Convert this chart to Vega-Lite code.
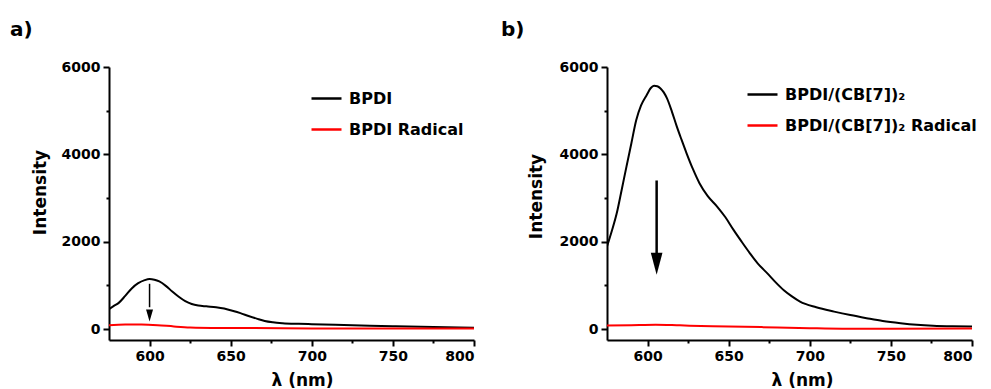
{
  "$schema": "https://vega.github.io/schema/vega-lite/v6.json",
  "background": "white",
  "padding": {"left": 10, "top": 20, "right": 5, "bottom": 0},
  "config": {
    "font": "DejaVu Sans",
    "view": {"stroke": null},
    "axis": {
      "labelFont": "DejaVu Sans", "labelFontWeight": "bold", "labelFontSize": 14, "labelColor": "black",
      "titleFont": "DejaVu Sans", "titleFontWeight": "bold", "titleFontSize": 17, "titleColor": "black",
      "domainColor": "black", "domainWidth": 2, "tickColor": "black", "tickWidth": 2, "grid": false
    },
    "legend": {
      "labelFont": "DejaVu Sans", "labelFontWeight": "bold", "labelFontSize": 16, "labelColor": "black",
      "symbolType": "stroke", "symbolSize": 900, "symbolStrokeWidth": 2.5, "padding": 0, "rowPadding": 6,
      "labelOffset": 6, "labelLimit": 400
    },
    "title": {"font": "DejaVu Sans", "fontWeight": "bold", "fontSize": 20, "color": "black", "anchor": "start", "frame": "bounds"}
  },
  "datasets": {
    "spectra": [
      {"panel": "a", "series": "BPDI", "wl": 575, "intensity": 458},
      {"panel": "a", "series": "BPDI", "wl": 578, "intensity": 530},
      {"panel": "a", "series": "BPDI", "wl": 581, "intensity": 600},
      {"panel": "a", "series": "BPDI", "wl": 585, "intensity": 760},
      {"panel": "a", "series": "BPDI", "wl": 589, "intensity": 930},
      {"panel": "a", "series": "BPDI", "wl": 593, "intensity": 1050},
      {"panel": "a", "series": "BPDI", "wl": 597, "intensity": 1120},
      {"panel": "a", "series": "BPDI", "wl": 600, "intensity": 1145},
      {"panel": "a", "series": "BPDI", "wl": 603, "intensity": 1130},
      {"panel": "a", "series": "BPDI", "wl": 606, "intensity": 1090},
      {"panel": "a", "series": "BPDI", "wl": 610, "intensity": 990},
      {"panel": "a", "series": "BPDI", "wl": 614, "intensity": 860},
      {"panel": "a", "series": "BPDI", "wl": 618, "intensity": 740},
      {"panel": "a", "series": "BPDI", "wl": 622, "intensity": 640},
      {"panel": "a", "series": "BPDI", "wl": 626, "intensity": 575},
      {"panel": "a", "series": "BPDI", "wl": 630, "intensity": 540},
      {"panel": "a", "series": "BPDI", "wl": 635, "intensity": 520},
      {"panel": "a", "series": "BPDI", "wl": 641, "intensity": 500},
      {"panel": "a", "series": "BPDI", "wl": 646, "intensity": 470},
      {"panel": "a", "series": "BPDI", "wl": 651, "intensity": 420},
      {"panel": "a", "series": "BPDI", "wl": 656, "intensity": 365},
      {"panel": "a", "series": "BPDI", "wl": 661, "intensity": 300},
      {"panel": "a", "series": "BPDI", "wl": 666, "intensity": 240},
      {"panel": "a", "series": "BPDI", "wl": 671, "intensity": 185},
      {"panel": "a", "series": "BPDI", "wl": 676, "intensity": 155},
      {"panel": "a", "series": "BPDI", "wl": 682, "intensity": 135},
      {"panel": "a", "series": "BPDI", "wl": 692, "intensity": 120},
      {"panel": "a", "series": "BPDI", "wl": 700, "intensity": 112},
      {"panel": "a", "series": "BPDI", "wl": 725, "intensity": 90},
      {"panel": "a", "series": "BPDI", "wl": 750, "intensity": 65},
      {"panel": "a", "series": "BPDI", "wl": 775, "intensity": 45},
      {"panel": "a", "series": "BPDI", "wl": 800, "intensity": 30},
      {"panel": "a", "series": "BPDI Radical", "wl": 575, "intensity": 90},
      {"panel": "a", "series": "BPDI Radical", "wl": 585, "intensity": 105},
      {"panel": "a", "series": "BPDI Radical", "wl": 595, "intensity": 105},
      {"panel": "a", "series": "BPDI Radical", "wl": 605, "intensity": 90},
      {"panel": "a", "series": "BPDI Radical", "wl": 615, "intensity": 60},
      {"panel": "a", "series": "BPDI Radical", "wl": 625, "intensity": 38},
      {"panel": "a", "series": "BPDI Radical", "wl": 650, "intensity": 25},
      {"panel": "a", "series": "BPDI Radical", "wl": 700, "intensity": 15},
      {"panel": "a", "series": "BPDI Radical", "wl": 750, "intensity": 15},
      {"panel": "a", "series": "BPDI Radical", "wl": 800, "intensity": 15},
      {"panel": "b", "series": "BPDI/(CB[7])₂", "wl": 575, "intensity": 1890},
      {"panel": "b", "series": "BPDI/(CB[7])₂", "wl": 578, "intensity": 2250},
      {"panel": "b", "series": "BPDI/(CB[7])₂", "wl": 581, "intensity": 2650},
      {"panel": "b", "series": "BPDI/(CB[7])₂", "wl": 584, "intensity": 3180},
      {"panel": "b", "series": "BPDI/(CB[7])₂", "wl": 587, "intensity": 3720},
      {"panel": "b", "series": "BPDI/(CB[7])₂", "wl": 590, "intensity": 4250},
      {"panel": "b", "series": "BPDI/(CB[7])₂", "wl": 593, "intensity": 4780},
      {"panel": "b", "series": "BPDI/(CB[7])₂", "wl": 596, "intensity": 5120},
      {"panel": "b", "series": "BPDI/(CB[7])₂", "wl": 599.5, "intensity": 5360},
      {"panel": "b", "series": "BPDI/(CB[7])₂", "wl": 602, "intensity": 5520},
      {"panel": "b", "series": "BPDI/(CB[7])₂", "wl": 604, "intensity": 5570},
      {"panel": "b", "series": "BPDI/(CB[7])₂", "wl": 606, "intensity": 5560},
      {"panel": "b", "series": "BPDI/(CB[7])₂", "wl": 608, "intensity": 5510},
      {"panel": "b", "series": "BPDI/(CB[7])₂", "wl": 610, "intensity": 5420},
      {"panel": "b", "series": "BPDI/(CB[7])₂", "wl": 612, "intensity": 5280},
      {"panel": "b", "series": "BPDI/(CB[7])₂", "wl": 615, "intensity": 4980},
      {"panel": "b", "series": "BPDI/(CB[7])₂", "wl": 618, "intensity": 4640},
      {"panel": "b", "series": "BPDI/(CB[7])₂", "wl": 621, "intensity": 4330},
      {"panel": "b", "series": "BPDI/(CB[7])₂", "wl": 624, "intensity": 4030},
      {"panel": "b", "series": "BPDI/(CB[7])₂", "wl": 628, "intensity": 3660},
      {"panel": "b", "series": "BPDI/(CB[7])₂", "wl": 632, "intensity": 3340},
      {"panel": "b", "series": "BPDI/(CB[7])₂", "wl": 637, "intensity": 3050},
      {"panel": "b", "series": "BPDI/(CB[7])₂", "wl": 643, "intensity": 2800},
      {"panel": "b", "series": "BPDI/(CB[7])₂", "wl": 648, "intensity": 2560},
      {"panel": "b", "series": "BPDI/(CB[7])₂", "wl": 653, "intensity": 2270},
      {"panel": "b", "series": "BPDI/(CB[7])₂", "wl": 658, "intensity": 2000},
      {"panel": "b", "series": "BPDI/(CB[7])₂", "wl": 663, "intensity": 1740},
      {"panel": "b", "series": "BPDI/(CB[7])₂", "wl": 668, "intensity": 1500},
      {"panel": "b", "series": "BPDI/(CB[7])₂", "wl": 674, "intensity": 1270},
      {"panel": "b", "series": "BPDI/(CB[7])₂", "wl": 679, "intensity": 1070},
      {"panel": "b", "series": "BPDI/(CB[7])₂", "wl": 684, "intensity": 890},
      {"panel": "b", "series": "BPDI/(CB[7])₂", "wl": 689, "intensity": 750},
      {"panel": "b", "series": "BPDI/(CB[7])₂", "wl": 694, "intensity": 630},
      {"panel": "b", "series": "BPDI/(CB[7])₂", "wl": 704, "intensity": 500},
      {"panel": "b", "series": "BPDI/(CB[7])₂", "wl": 715, "intensity": 400},
      {"panel": "b", "series": "BPDI/(CB[7])₂", "wl": 725, "intensity": 320},
      {"panel": "b", "series": "BPDI/(CB[7])₂", "wl": 735, "intensity": 250},
      {"panel": "b", "series": "BPDI/(CB[7])₂", "wl": 745, "intensity": 185},
      {"panel": "b", "series": "BPDI/(CB[7])₂", "wl": 756, "intensity": 135},
      {"panel": "b", "series": "BPDI/(CB[7])₂", "wl": 766, "intensity": 100},
      {"panel": "b", "series": "BPDI/(CB[7])₂", "wl": 776, "intensity": 78},
      {"panel": "b", "series": "BPDI/(CB[7])₂", "wl": 788, "intensity": 65},
      {"panel": "b", "series": "BPDI/(CB[7])₂", "wl": 800, "intensity": 60},
      {"panel": "b", "series": "BPDI/(CB[7])₂ Radical", "wl": 575, "intensity": 80},
      {"panel": "b", "series": "BPDI/(CB[7])₂ Radical", "wl": 590, "intensity": 90},
      {"panel": "b", "series": "BPDI/(CB[7])₂ Radical", "wl": 605, "intensity": 100},
      {"panel": "b", "series": "BPDI/(CB[7])₂ Radical", "wl": 620, "intensity": 85},
      {"panel": "b", "series": "BPDI/(CB[7])₂ Radical", "wl": 640, "intensity": 65},
      {"panel": "b", "series": "BPDI/(CB[7])₂ Radical", "wl": 660, "intensity": 55},
      {"panel": "b", "series": "BPDI/(CB[7])₂ Radical", "wl": 680, "intensity": 35},
      {"panel": "b", "series": "BPDI/(CB[7])₂ Radical", "wl": 700, "intensity": 20},
      {"panel": "b", "series": "BPDI/(CB[7])₂ Radical", "wl": 720, "intensity": 10},
      {"panel": "b", "series": "BPDI/(CB[7])₂ Radical", "wl": 750, "intensity": 10},
      {"panel": "b", "series": "BPDI/(CB[7])₂ Radical", "wl": 800, "intensity": 15}
    ],
    "arrows": [
      {"panel": "a", "wl": 600, "top": 1037, "base": 500, "tip": 174},
      {"panel": "b", "wl": 605.6, "top": 3402, "base": 1600, "tip": 1243}
    ]
  },
  "hconcat": [
    {
      "width": 365,
      "height": 273,
      "title": {"text": "a)", "dx": -21, "offset": 20},
      "layer": [
        {
          "data": {"name": "spectra"},
          "transform": [{"filter": "datum.panel === 'a'"}],
          "mark": {"type": "line", "strokeWidth": 2, "interpolate": "monotone", "clip": true},
          "encoding": {
            "x": {"field": "wl", "type": "quantitative",
              "scale": {"domain": [575, 800], "nice": false, "zero": false},
              "axis": {"title": "λ (nm)", "values": [600, 625, 650, 675, 700, 725, 750, 775, 800],
                "labelExpr": "datum.value % 50 === 0 ? datum.label : ''",
                "tickSize": {"condition": {"test": "datum.value % 50 === 0", "value": 6}, "value": 3},
                "labelPadding": 3, "titlePadding": 9, "titleX": 193}},
            "y": {"field": "intensity", "type": "quantitative",
              "scale": {"domain": [-250, 6000], "nice": false, "zero": false},
              "axis": {"title": "Intensity", "values": [0, 1000, 2000, 3000, 4000, 5000, 6000], "format": "d",
                "labelExpr": "datum.value % 2000 === 0 ? datum.label : ''",
                "tickSize": {"condition": {"test": "datum.value % 2000 === 0", "value": 6}, "value": 3},
                "labelPadding": 3, "titlePadding": 12, "titleY": 125}},
            "color": {"field": "series", "type": "nominal",
              "scale": {"domain": ["BPDI", "BPDI Radical"], "range": ["#000000", "#ff0000"]},
              "legend": {"orient": "none", "legendX": 201, "legendY": 15, "title": null}},
            "order": {"field": "wl", "type": "quantitative"}
          }
        },
        {
          "data": {"name": "arrows"},
          "transform": [{"filter": "datum.panel === 'a'"}],
          "mark": {"type": "rule", "color": "black", "strokeWidth": 1.5},
          "encoding": {
            "x": {"field": "wl", "type": "quantitative"},
            "y": {"field": "top", "type": "quantitative"},
            "y2": {"field": "base"}
          }
        },
        {
          "data": {"name": "arrows"},
          "transform": [{"filter": "datum.panel === 'a'"}],
          "mark": {"type": "point", "filled": true, "color": "black", "opacity": 1, "size": 144,
            "shape": "M-0.58,-2L0.58,-2L0,0Z", "strokeWidth": 0},
          "encoding": {
            "x": {"field": "wl", "type": "quantitative"},
            "y": {"field": "tip", "type": "quantitative"}
          }
        }
      ]
    },
    {
      "width": 365,
      "height": 273,
      "title": {"text": "b)", "dx": -26, "offset": 20},
      "layer": [
        {
          "data": {"name": "spectra"},
          "transform": [{"filter": "datum.panel === 'b'"}],
          "mark": {"type": "line", "strokeWidth": 2, "interpolate": "monotone", "clip": true},
          "encoding": {
            "x": {"field": "wl", "type": "quantitative",
              "scale": {"domain": [575, 800], "nice": false, "zero": false},
              "axis": {"title": "λ (nm)", "values": [600, 625, 650, 675, 700, 725, 750, 775, 800],
                "labelExpr": "datum.value % 50 === 0 ? datum.label : ''",
                "tickSize": {"condition": {"test": "datum.value % 50 === 0", "value": 6}, "value": 3},
                "labelPadding": 3, "titlePadding": 9, "titleX": 195}},
            "y": {"field": "intensity", "type": "quantitative",
              "scale": {"domain": [-250, 6000], "nice": false, "zero": false},
              "axis": {"title": "Intensity", "values": [0, 1000, 2000, 3000, 4000, 5000, 6000], "format": "d",
                "labelExpr": "datum.value % 2000 === 0 ? datum.label : ''",
                "tickSize": {"condition": {"test": "datum.value % 2000 === 0", "value": 6}, "value": 3},
                "labelPadding": 3, "titlePadding": 14, "titleY": 129}},
            "color": {"field": "series", "type": "nominal",
              "scale": {"domain": ["BPDI/(CB[7])₂", "BPDI/(CB[7])₂ Radical"], "range": ["#000000", "#ff0000"]},
              "legend": {"orient": "none", "legendX": 139, "legendY": 11, "title": null}},
            "order": {"field": "wl", "type": "quantitative"}
          }
        },
        {
          "data": {"name": "arrows"},
          "transform": [{"filter": "datum.panel === 'b'"}],
          "mark": {"type": "rule", "color": "black", "strokeWidth": 2.5},
          "encoding": {
            "x": {"field": "wl", "type": "quantitative"},
            "y": {"field": "top", "type": "quantitative"},
            "y2": {"field": "base"}
          }
        },
        {
          "data": {"name": "arrows"},
          "transform": [{"filter": "datum.panel === 'b'"}],
          "mark": {"type": "point", "filled": true, "color": "black", "opacity": 1, "size": 484,
            "shape": "M-0.53,-2L0.53,-2L0,0Z", "strokeWidth": 0},
          "encoding": {
            "x": {"field": "wl", "type": "quantitative"},
            "y": {"field": "tip", "type": "quantitative"}
          }
        }
      ]
    }
  ],
  "spacing": 26,
  "resolve": {"scale": {"color": "independent", "x": "independent", "y": "independent"}, "legend": {"color": "independent"}}
}
